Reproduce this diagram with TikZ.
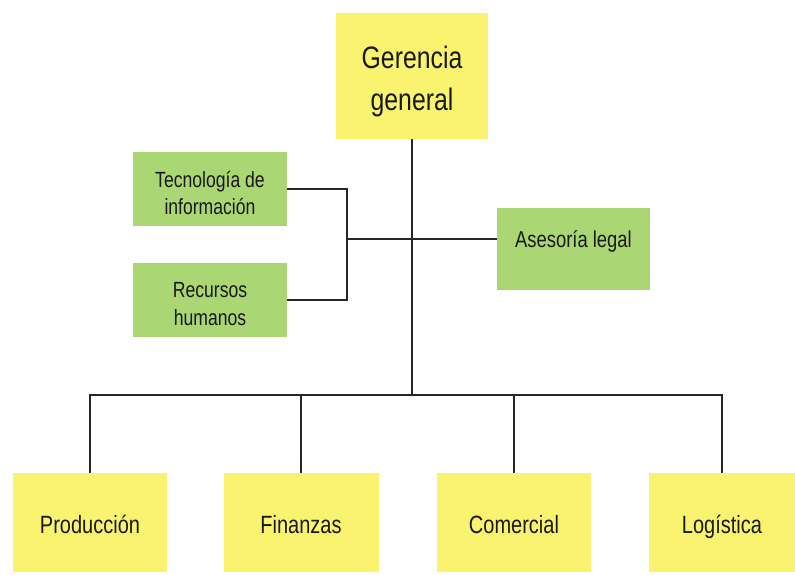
\documentclass[tikz,border=0pt]{standalone}
\usepackage{fontspec}
\setmainfont[FakeStretch=0.8]{Liberation Sans}
\definecolor{ybox}{RGB}{249,243,112}
\definecolor{gbox}{RGB}{170,214,116}
\definecolor{txt}{RGB}{25,25,25}
\newcommand{\liftone}[2]{\raisebox{#1}[0pt][0pt]{#2}}
\newcommand{\lifttwo}[3]{\raisebox{#1}[0pt][0pt]{\begin{tabular}[b]{@{}c@{}}#2\\#3\end{tabular}}}
\begin{document}
\begin{tikzpicture}[x=1pt,y=-1pt,
  box/.style={rectangle,inner sep=0pt,align=center,text=txt},
  ybx/.style={box,fill=ybox},
  gbx/.style={box,fill=gbox},
  bot/.style={ybx,minimum height=99pt,font=\fontsize{25}{30}\selectfont},
  conn/.style={draw=black!85,line width=1.3pt}]
\useasboundingbox[fill=white] (0,0) rectangle (795,574);
\node[ybx,minimum width=152pt,minimum height=126pt,font=\fontsize{31}{42}\selectfont] (ger) at (412,76) {\lifttwo{-34pt}{Gerencia}{general}};
\node[gbx,minimum width=154pt,minimum height=74pt,font=\fontsize{22}{27}\selectfont] (tec) at (210,189) {\lifttwo{-25pt}{Tecnología de}{información}};
\node[gbx,minimum width=154pt,minimum height=74pt,font=\fontsize{22}{28}\selectfont] (rec) at (210,300) {\lifttwo{-25pt}{Recursos}{humanos}};
\node[gbx,minimum width=153pt,minimum height=82pt,font=\fontsize{23}{28}\selectfont] (ase) at (573.5,249) {\liftone{2pt}{Asesoría legal}};
\node[bot,minimum width=154pt] (pro) at (90,522.5) {\liftone{-10.5pt}{Producción}};
\node[bot,minimum width=155pt] (fin) at (301,522.5) {\liftone{-10.5pt}{Finanzas}};
\node[bot,minimum width=154pt] (com) at (514,522.5) {\liftone{-10.5pt}{Comercial}};
\node[bot,minimum width=147pt] (log) at (722,522.5) {\liftone{-10.5pt}{Logística}};
\coordinate (bus) at (412,395);
\coordinate (brk) at (347,239);
\draw[conn] (ger.south) -- (bus);
\draw[conn] (pro.north) |- (bus) -| (log.north);
\draw[conn] (fin.north) -- (fin.north |- bus);
\draw[conn] (com.north) -- (com.north |- bus);
\draw[conn] (tec.east) -| (brk) |- (rec.east);
\draw[conn] (brk) -- (brk -| ase.west);
\end{tikzpicture}
\end{document}
